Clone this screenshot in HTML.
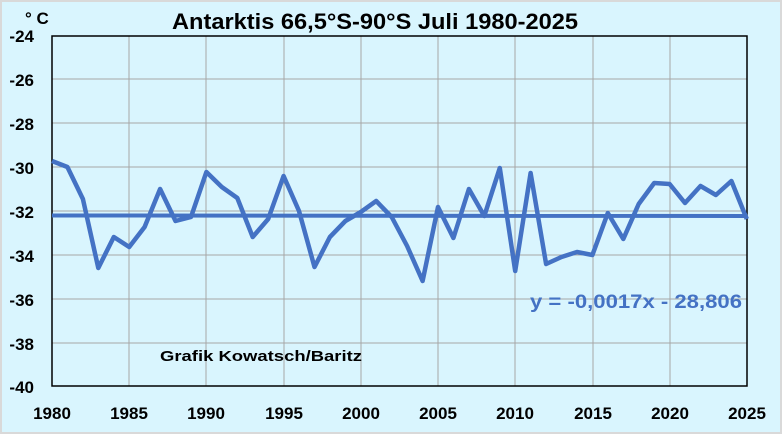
<!DOCTYPE html>
<html><head><meta charset="utf-8"><style>
html,body{margin:0;padding:0;background:#fff}
svg{display:block}
text{font-family:"Liberation Sans","DejaVu Sans",sans-serif;font-weight:bold}
</style></head><body>
<svg width="782" height="434" viewBox="0 0 782 434" xmlns="http://www.w3.org/2000/svg">
<rect x="1" y="1" width="780" height="432" fill="#d9f5fe" stroke="#d9d9d9" stroke-width="2"/>
<g stroke="#a6a6a6" stroke-width="1">
<line x1="52" y1="79" x2="747" y2="79"/><line x1="52" y1="123" x2="747" y2="123"/>
<line x1="52" y1="167" x2="747" y2="167"/><line x1="52" y1="211" x2="747" y2="211"/>
<line x1="52" y1="255" x2="747" y2="255"/><line x1="52" y1="299" x2="747" y2="299"/>
<line x1="52" y1="343" x2="747" y2="343"/>
<line x1="129" y1="36" x2="129" y2="386"/><line x1="206" y1="36" x2="206" y2="386"/>
<line x1="284" y1="36" x2="284" y2="386"/><line x1="361" y1="36" x2="361" y2="386"/>
<line x1="438" y1="36" x2="438" y2="386"/><line x1="515" y1="36" x2="515" y2="386"/>
<line x1="593" y1="36" x2="593" y2="386"/><line x1="670" y1="36" x2="670" y2="386"/>
</g>
<rect x="52" y="36" width="695" height="350" fill="none" stroke="#000" stroke-width="1.5"/>
<line x1="52" y1="215.5" x2="747" y2="216" stroke="#4472c4" stroke-width="4"/>
<polyline fill="none" stroke="#4472c4" stroke-width="4.5" stroke-linejoin="round" points="52,161 67.4,167 82.9,199 98.3,268 113.8,237 129.2,247 144.6,227 160.1,189 175.5,221 191,217 206.4,172 221.8,187 237.3,198 252.7,237 268.2,219 283.6,176 299,211 314.5,267 329.9,237 345.4,221 360.8,212 376.2,201 391.7,217 407.1,246 422.6,281 438,207 453.4,238 468.9,189 484.3,216 499.8,168 515.2,271 530.6,173 546.1,264 561.5,257 577,252 592.4,255 607.8,213 623.3,239 638.7,204 654.2,183 669.6,184 685,203 700.5,186 715.9,195 731.4,181 746.8,219"/>
<g font-size="17" text-anchor="end">
<text x="34" y="42">-24</text><text x="34" y="86">-26</text><text x="34" y="130">-28</text>
<text x="34" y="174">-30</text><text x="34" y="218">-32</text><text x="34" y="262">-34</text>
<text x="34" y="306">-36</text><text x="34" y="350">-38</text><text x="34" y="393">-40</text>
</g>
<g font-size="17" text-anchor="middle">
<text x="52" y="419">1980</text><text x="129" y="419">1985</text><text x="206" y="419">1990</text>
<text x="284" y="419">1995</text><text x="361" y="419">2000</text><text x="438" y="419">2005</text>
<text x="515" y="419">2010</text><text x="593" y="419">2015</text><text x="670" y="419">2020</text>
<text x="747" y="419">2025</text>
</g>
<text x="25" y="24" font-size="17">° C</text>
<text x="172" y="29" font-size="22" textLength="406" lengthAdjust="spacingAndGlyphs">Antarktis 66,5°S-90°S Juli 1980-2025</text>
<text x="530" y="308" font-size="19" fill="#4472c4" textLength="212" lengthAdjust="spacingAndGlyphs">y = -0,0017x - 28,806</text>
<text x="160" y="361" font-size="15" textLength="202" lengthAdjust="spacingAndGlyphs">Grafik Kowatsch/Baritz</text>
</svg>
</body></html>
